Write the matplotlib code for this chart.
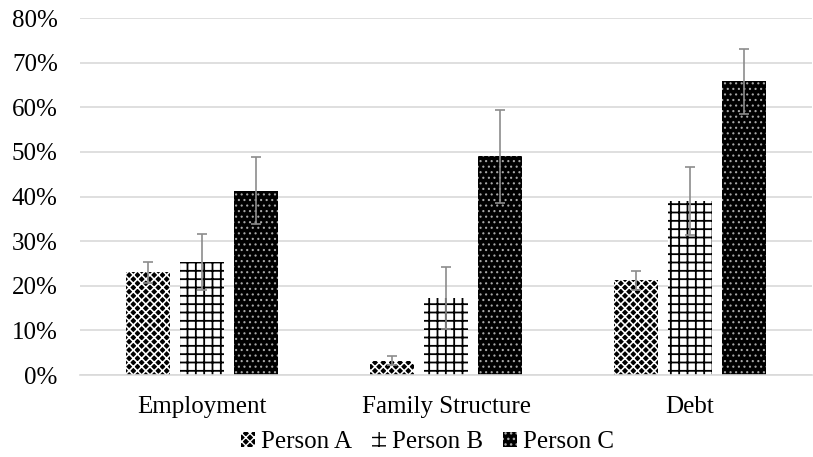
import matplotlib.pyplot as plt
import numpy as np

plt.rcParams['font.family'] = ['Liberation Serif', 'DejaVu Serif']

categories = ['Employment', 'Family Structure', 'Debt']
series = ['Person A', 'Person B', 'Person C']
values = {
    'Person A': [23.0, 3.2, 21.2],
    'Person B': [25.3, 17.2, 39.0],
    'Person C': [41.3, 49.0, 65.8],
}
errors = {
    'Person A': [2.3, 1.0, 2.1],
    'Person B': [6.2, 7.0, 7.7],
    'Person C': [7.5, 10.4, 7.2],
}
yticks = [0, 10, 20, 30, 40, 50, 60, 70, 80]

# face, hatch colour, hatch pattern, hatch width
styles = {
    'Person A': ('black', 'white', 'xxxx', 1.15),
    'Person B': ('white', 'black', '++', 1.3),
    'Person C': ('black', '#a8a8a8', '...', 0.8),
}

fig = plt.figure(figsize=(8.13, 4.57), dpi=100)
ax = fig.add_axes([0.0984, 0.1794, 0.9004, 0.7812])

x = np.arange(len(categories))
step = 0.22
width = 0.18

for i, name in enumerate(series):
    face, hcol, hatch, hlw = styles[name]
    pos = x + (i - 1) * step
    bars = ax.bar(pos, values[name], width, color=face, edgecolor=hcol,
                  linewidth=0, hatch=hatch, label=name, zorder=2)
    for b in bars:
        try:
            b.set_hatch_linewidth(hlw)
        except AttributeError:
            pass
    ax.errorbar(pos, values[name], yerr=errors[name], fmt='none',
                ecolor='#8c8c8c', elinewidth=1.2, capsize=3.5, capthick=1.2, zorder=3)

ax.set_ylim(0, 80)
ax.set_xlim(-0.5, 2.5)
ax.set_yticks(yticks)
ax.set_yticklabels([f'{t}%' for t in yticks], fontsize=18)
ax.set_xticks(x)
ax.set_xticklabels(categories, fontsize=18)
ax.tick_params(axis='y', length=0, pad=16)
ax.tick_params(axis='x', length=0, pad=15)
ax.yaxis.grid(True, color='#d9d9d9', linewidth=1.2, zorder=0)
ax.set_axisbelow(True)
for s in ['top', 'right', 'left']:
    ax.spines[s].set_visible(False)
ax.spines['bottom'].set_color('#d9d9d9')
ax.spines['bottom'].set_linewidth(1.2)

leg = ax.legend(loc='upper center', bbox_to_anchor=(0.475, -0.13), ncol=3, frameon=False,
                fontsize=18, handlelength=0.55, handleheight=0.55, handletextpad=0.25,
                columnspacing=0.8, borderaxespad=0)
for h in leg.legend_handles:
    try:
        h.set_hatch_linewidth(1.0)
    except AttributeError:
        pass

fig.savefig('out.png', dpi=100)
